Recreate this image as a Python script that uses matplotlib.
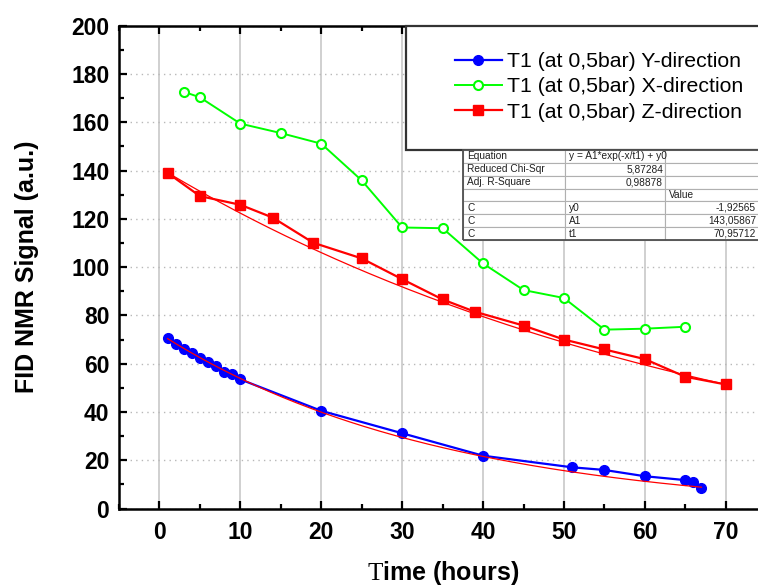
import matplotlib.pyplot as plt
import numpy as np
from matplotlib.patches import Rectangle
from matplotlib.ticker import MultipleLocator

plt.rcParams['font.family'] = ['Liberation Sans', 'DejaVu Sans']
plt.rcParams['mathtext.fontset'] = 'custom'
plt.rcParams['mathtext.rm'] = 'Liberation Serif'

# data
y_hours = [1, 2, 3, 4, 5, 6, 7, 8, 9, 10, 20, 30, 40, 51, 55, 60, 65, 66, 67]
y_signal = [70.8, 68.2, 66.1, 64.4, 62.2, 60.6, 59.0, 56.4, 55.6, 53.5,
            40.5, 31.2, 21.9, 17.1, 16.0, 13.4, 11.8, 10.9, 8.4]

x_hours = [3, 5, 10, 15, 20, 25, 30, 35, 40, 45, 50, 55, 60, 65]
x_signal = [172.6, 170.3, 159.4, 155.5, 151.1, 135.9, 116.4, 116.1,
            101.5, 90.5, 87.2, 74.1, 74.5, 75.3]

z_hours = [1, 5, 10, 14, 19, 25, 30, 35, 39, 45, 50, 55, 60, 65, 70]
z_signal = [139.0, 129.4, 125.8, 120.5, 110.1, 103.6, 95.0, 86.6, 81.5,
            75.8, 70.0, 65.9, 61.9, 54.6, 51.4]

# exponential decay fits  y = A1*exp(-x/t1) + y0
z_fit = dict(A1=143.05867, t1=70.95712, y0=-1.92565, x0=1, x1=70)
y_fit = dict(A1=74.5, t1=34.8, y0=-2.0, x0=1, x1=67)

labels = ['T1 (at 0,5bar) Y-direction', 'T1 (at 0,5bar) X-direction',
          'T1 (at 0,5bar) Z-direction']

table_rows = [
    ('Equation', 'y = A1*exp(-x/t1) + y0', ''),
    ('Reduced Chi-Sqr', '5,87284', ''),
    ('Adj. R-Square', '0,98878', ''),
    ('', '', 'Value'),
    ('C', 'y0', '-1,92565'),
    ('C', 'A1', '143,05867'),
    ('C', 't1', '70,95712'),
]

W, H = 758, 587
fig = plt.figure(figsize=(W / 100, H / 100), dpi=100)
ax = fig.add_axes([119 / W, 78.4 / H, 647.2 / W, 483 / H])

ax.plot(y_hours, y_signal, color='#0000ff', lw=1.6, marker='o', ms=7,
        label=labels[0], zorder=3)
ax.plot(x_hours, x_signal, color='#00ff00', lw=1.4, marker='o', ms=6.5,
        mfc='white', mec='#00ff00', mew=1.5, label=labels[1], zorder=3)
ax.plot(z_hours, z_signal, color='#ff0000', lw=1.6, marker='s', ms=6.5,
        label=labels[2], zorder=3)

for f in (y_fit, z_fit):
    xx = np.linspace(f['x0'], f['x1'], 200)
    ax.plot(xx, f['A1'] * np.exp(-xx / f['t1']) + f['y0'], color='#ff0000',
            lw=0.9, zorder=4)

ax.set_xlim(-5, 75)
ax.set_ylim(0, 200)
ax.set_xticks(range(0, 71, 10))
ax.set_yticks(range(0, 201, 20))
ax.xaxis.set_minor_locator(MultipleLocator(5))
ax.yaxis.set_minor_locator(MultipleLocator(10))
ax.tick_params(which='both', direction='in', top=True, right=True, width=1.6)
ax.tick_params(which='major', length=6, labelsize=16.5)
ax.tick_params(axis='x', which='major', pad=9)
ax.tick_params(axis='y', which='major', pad=7)
ax.tick_params(which='minor', length=3.5)
for lab in ax.get_xticklabels() + ax.get_yticklabels():
    lab.set_fontweight('bold')
for sp in ax.spines.values():
    sp.set_linewidth(1.8)

ax.xaxis.grid(True, color='#c8c8c8', lw=1.2, ls='-')
ax.yaxis.grid(True, color='#b8b8b8', lw=1.0, ls=(0, (1, 3)))
ax.set_axisbelow(True)

ax.set_ylabel('FID NMR Signal (a.u.)', fontsize=18, fontweight='bold')
ax.yaxis.set_label_coords(-0.142, 0.5)
ax.yaxis.label.set_va('center')
ax.set_xlabel(r'$\mathrm{T}$ime (hours)', fontsize=18, fontweight='bold')
ax.xaxis.set_label_coords(0.5, -0.133)
ax.xaxis.label.set_va('center')


def px(x, y):
    # reference pixel -> axes fraction
    return (x - 119) / 647.2, (508.6 - y) / 483


# legend box
bx, by = px(406, 150)
ax.add_patch(Rectangle((bx, by), 1.2 - bx, 1 - by, transform=ax.transAxes,
                       facecolor='white', edgecolor='#333333', lw=1.6,
                       clip_on=False, zorder=5))
leg = ax.legend(loc='upper left', bbox_to_anchor=px(455, 52), frameon=False,
                fontsize=15.3, handlelength=2.2, handletextpad=0.25,
                labelspacing=0.3, borderpad=0, borderaxespad=0)
leg.set_zorder(6)

# fit parameter table
cols = [463, 565, 665, 770]
top, rh = 150, 12.86
for i, row in enumerate(table_rows):
    y0 = top + i * rh
    for j, txt in enumerate(row):
        x0, x1 = cols[j], cols[j + 1]
        a, b = px(x0, y0 + rh)
        c, d = px(x1, y0)
        ax.add_patch(Rectangle((a, b), c - a, d - b, transform=ax.transAxes,
                               facecolor='white', edgecolor='#b0b0b0', lw=0.8,
                               clip_on=False, zorder=6))
        if not txt:
            continue
        numeric = txt[0].isdigit() or txt[0] == '-'
        if numeric:
            tx, ha = px(min(x1, 758) - 2, y0 + rh / 2)[0], 'right'
        else:
            tx, ha = px(x0 + 4, y0)[0], 'left'
        ax.text(tx, px(0, y0 + rh / 2)[1], txt, transform=ax.transAxes,
                fontsize=7.3, ha=ha, va='center', zorder=7, clip_on=False,
                color='#202020')
a, b = px(cols[0], top + rh * len(table_rows))
c, d = px(cols[-1], top)
ax.add_patch(Rectangle((a, b), c - a, d - b, transform=ax.transAxes,
                       facecolor='none', edgecolor='#505050', lw=1.3,
                       clip_on=False, zorder=7))

fig.savefig('out.png', dpi=100)
